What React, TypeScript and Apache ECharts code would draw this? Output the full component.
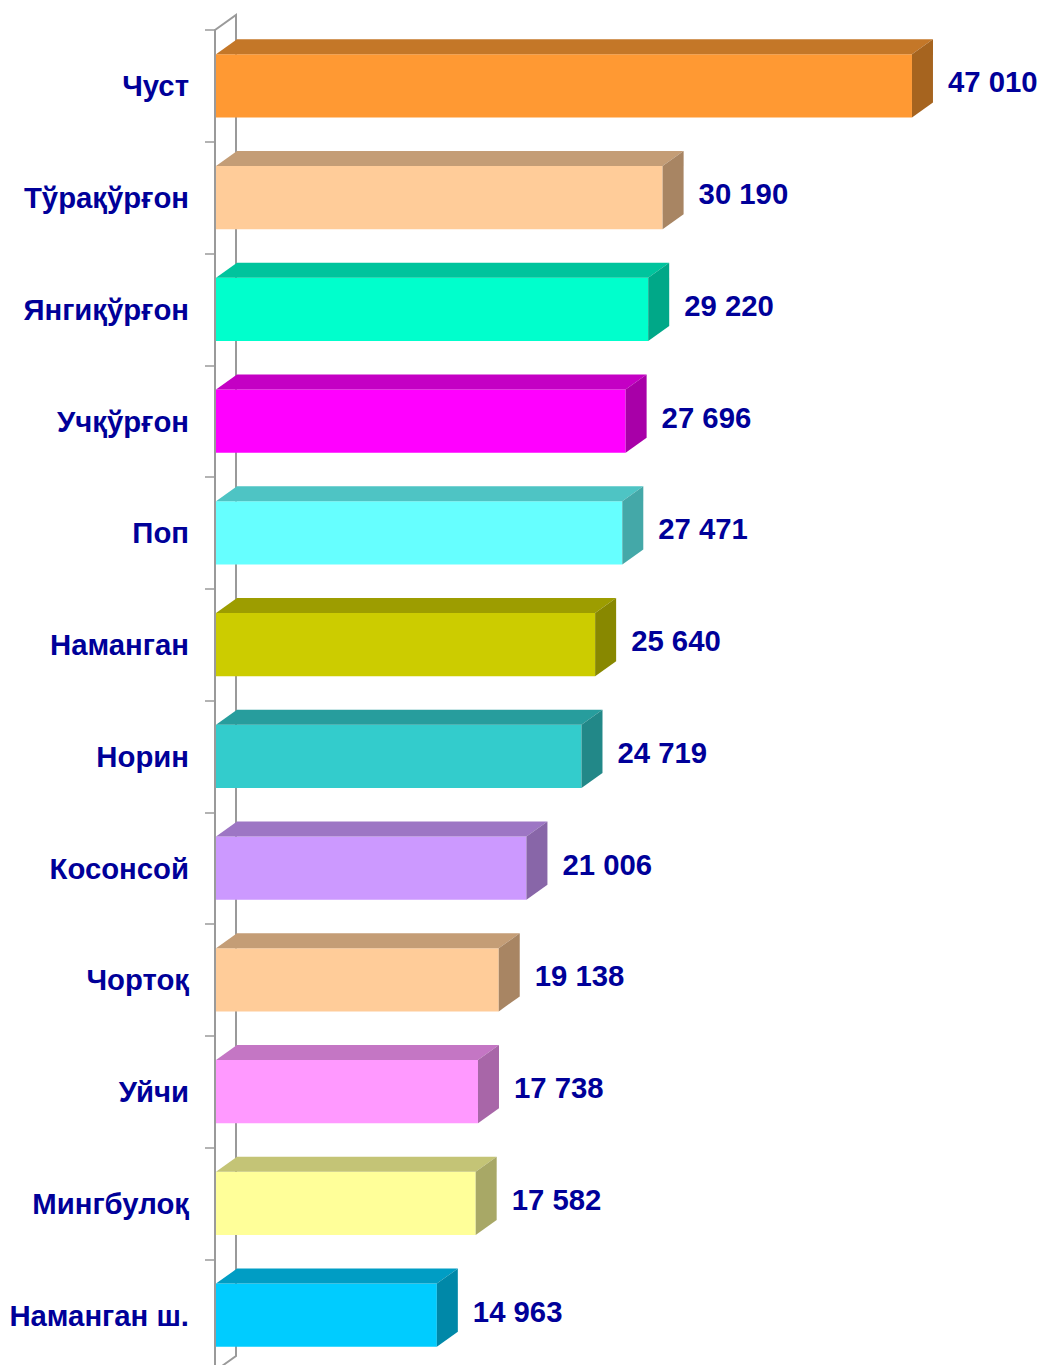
import React, { useEffect, useRef } from "react";
import * as echarts from "echarts";

const categories = [
  "Чуст",
  "Тўрақўрғон",
  "Янгиқўрғон",
  "Учқўрғон",
  "Поп",
  "Наманган",
  "Норин",
  "Косонсой",
  "Чортоқ",
  "Уйчи",
  "Мингбулоқ",
  "Наманган ш.",
];

const values = [47010, 30190, 29220, 27696, 27471, 25640, 24719, 21006, 19138, 17738, 17582, 14963];

const frontColors = ["#FF9933", "#FFCC99", "#00FFCC", "#FF00FF", "#66FFFF", "#CCCC00", "#33CCCC", "#CC99FF", "#FFCC99", "#FF99FF", "#FFFF99", "#00CCFF"];
const topColors = ["#C47728", "#C49D76", "#00C49D", "#C400C4", "#4EC4C4", "#9D9D00", "#279D9D", "#9D76C4", "#C49D76", "#C476C4", "#C4C476", "#009DC4"];
const sideColors = ["#A6641F", "#A88563", "#00A888", "#A800A8", "#44A8A8", "#888800", "#228888", "#8866A8", "#A88563", "#A866A8", "#A8A866", "#0088A8"];

const FONT = '"Liberation Sans", Arial, sans-serif';
const LABEL_COLOR = "#000099";
const DX = 21;
const DY = 15;

const fmt = (v: number) => String(v).replace(/\B(?=(\d{3})+(?!\d))/g, " ");

export default function App() {
  const ref = useRef<HTMLDivElement>(null);
  useEffect(() => {
    if (!ref.current) return;
    const chart = echarts.init(ref.current, null, { renderer: "svg" });
    chart.setOption({
      animation: false,
      backgroundColor: "#ffffff",
      grid: { left: 215, top: 30, width: 741.3, height: 1341 },
      xAxis: {
        type: "value",
        min: 0,
        max: 50000,
        show: false,
      },
      yAxis: {
        type: "category",
        inverse: true,
        data: categories,
        axisLine: { show: true, lineStyle: { color: "#9A9A9A", width: 2 } },
        axisTick: { show: true, length: 10, lineStyle: { color: "#9A9A9A", width: 1.5 } },
        axisLabel: {
          margin: 26,
          color: LABEL_COLOR,
          fontSize: 29.3,
          fontWeight: "bold",
          fontFamily: FONT,
        },
        splitLine: { show: false },
      },
      series: [
        {
          type: "custom",
          z: 1,
          clip: false,
          silent: true,
          data: [[0, 0]],
          encode: { x: 0, y: 1 },
          renderItem: (params: any) => {
            const cs = params.coordSys;
            return {
              type: "polyline",
              shape: {
                points: [
                  [cs.x, cs.y],
                  [cs.x + DX, cs.y - DY],
                  [cs.x + DX, cs.y + cs.height - DY],
                  [cs.x, cs.y + cs.height],
                ],
              },
              style: { stroke: "#9A9A9A", lineWidth: 2, fill: null },
            };
          },
        },
        {
          type: "custom",
          z: 2,
          clip: false,
          data: values.map((v, i) => [v, i]),
          encode: { x: 0, y: 1 },
          renderItem: (params: any, api: any) => {
            const v = api.value(0);
            const c = api.value(1);
            const idx = params.dataIndex;
            const start = api.coord([0, c]);
            const end = api.coord([v, c]);
            const band = api.size([0, 1])[1];
            const h = band * 0.564;
            const x0 = start[0] + 1;
            const x1 = end[0];
            const yT = end[1] - h / 2;
            const yB = yT + h;
            return {
              type: "group",
              children: [
                {
                  type: "polygon",
                  shape: { points: [[x0, yT], [x1, yT], [x1, yB], [x0, yB]] },
                  style: { fill: frontColors[idx] },
                },
                {
                  type: "polygon",
                  shape: { points: [[x0, yT], [x0 + DX, yT - DY], [x1 + DX, yT - DY], [x1, yT]] },
                  style: { fill: topColors[idx] },
                },
                {
                  type: "polygon",
                  shape: { points: [[x1, yT], [x1 + DX, yT - DY], [x1 + DX, yB - DY], [x1, yB]] },
                  style: { fill: sideColors[idx] },
                },
                {
                  type: "text",
                  x: x1 + DX + 15,
                  y: end[1] - 4,
                  style: {
                    text: fmt(v),
                    fill: LABEL_COLOR,
                    font: `bold 29.3px ${FONT}`,
                    textAlign: "left",
                    textVerticalAlign: "middle",
                  },
                },
              ],
            };
          },
        },
      ],
    });
    return () => chart.dispose();
  }, []);
  return (
    <div
      ref={ref}
      style={{ position: "fixed", left: 0, top: 0, width: 1043, height: 1400, background: "#fff" }}
    />
  );
}
